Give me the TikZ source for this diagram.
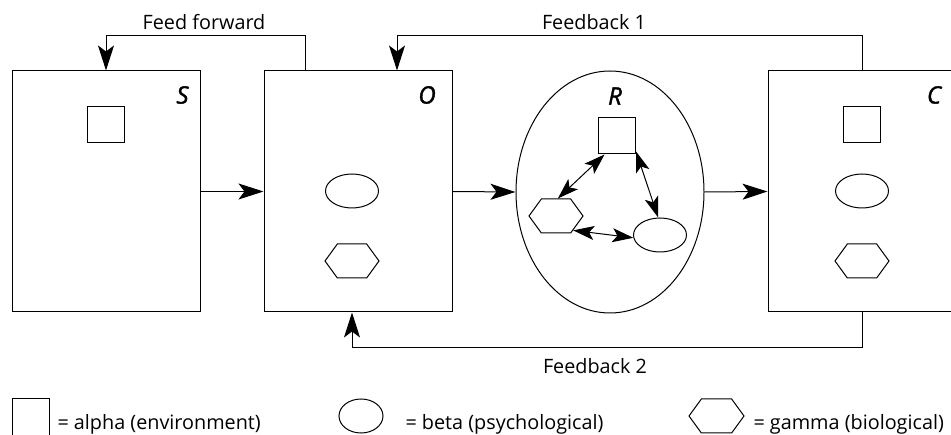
\documentclass[tikz,border=0pt]{standalone}
\usepackage{fontspec}
\setmainfont{Open Sans}
\usetikzlibrary{arrows.meta,shapes.geometric,shapes.symbols}

\begin{document}
\begin{tikzpicture}[x=1pt, y=-1pt, line width=1pt,
  box/.style={draw, rectangle, minimum width=188pt, minimum height=241pt, inner sep=0pt},
  alphashape/.style={draw, rectangle, minimum width=37pt, minimum height=36pt, inner sep=0pt},
  betashape/.style={draw, ellipse, minimum width=53pt, minimum height=34pt, inner sep=0pt},
  gammashape/.style={draw, signal, signal to=east and west, signal pointer angle=108,
    minimum width=54pt, minimum height=34pt, inner sep=0pt},
  flow/.style={-{Stealth[length=25pt, width=16pt, inset=6pt]}},
  link/.style={{Stealth[length=21pt, width=14pt, inset=5pt]}-{Stealth[length=21pt, width=14pt, inset=5pt]}},
  tag/.style={font=\fontsize{24}{26}\selectfont\itshape\addfontfeatures{FakeBold=1.6}},
  lbl/.style={font=\fontsize{19.8}{22}\selectfont},
]
\useasboundingbox (0,0) rectangle (951,435);
\clip (0,0) rectangle (951,435);

% main stages
\node[box] (S) at (106,191.5) {};
\node[box] (O) at (358,191.5) {};
\node[draw, ellipse, minimum width=188pt, minimum height=242pt, inner sep=0pt] (R) at (610,192) {};
\node[box] (C) at (862,191.5) {};

\node[tag] (tS) at (182.5,95) {S};
\node[tag] (tO) at (427,95) {O};
\node[tag] (tR) at (615,96) {R};
\node[tag] (tC) at (934,95) {C};

% contents of the stages
\node[alphashape] (Sa) at (105.5,125) {};
\node[betashape]  (Ob) at (352,191) {};
\node[gammashape] (Og) at (352,261) {};
\node[alphashape] (Ra) at (617,136) {};
\node[gammashape] (Rg) at (556,216) {};
\node[betashape]  (Rb) at (660,235) {};
\node[alphashape] (Ca) at (862,125) {};
\node[betashape]  (Cb) at (862,191) {};
\node[gammashape] (Cg) at (862,261) {};

% interactions inside R
\draw[link] (Ra.-124) -- (Rg.84);
\draw[link] (Ra.-39) -- (Rb.96);
\draw[link] (Rg.-40) -- (Rb.-174);

% forward flow
\draw[flow] (S.east) -- (O.west);
\draw[flow] (O.east) -- (R.west);
\draw[flow] (R.east) -- (C.west);

% feedback loops
\draw[flow] ([xshift=42pt]O.north west) -- ++(0,-35) -| (S.north);
\draw[flow] (C.north) -- ++(0,-35) -| ([xshift=39pt]O.north);
\draw[flow] (C.south) -- ++(0,35) -| ([xshift=-6pt]O.south);

\node[lbl] (ff) at (204,22) {Feed forward};
\node[lbl] (fb1) at (594,22) {Feedback 1};
\node[lbl] (fb2) at (595,366) {Feedback 2};

% legend
\node[alphashape, minimum height=37pt] (La) at (30.5,417.5) {};
\node[betashape, minimum width=44pt] (Lb) at (361,416) {};
\node[gammashape, minimum width=55pt] (Lg) at (716.5,416) {};
\node[lbl, anchor=base west, inner sep=0pt] (ta) at (57,430) {= alpha (environment)};
\node[lbl, anchor=base west, inner sep=0pt] (tb) at (405,430) {= beta (psychological)};
\node[lbl, anchor=base west, inner sep=0pt] (tg) at (753,430) {= gamma (biological)};
\end{tikzpicture}
\end{document}
